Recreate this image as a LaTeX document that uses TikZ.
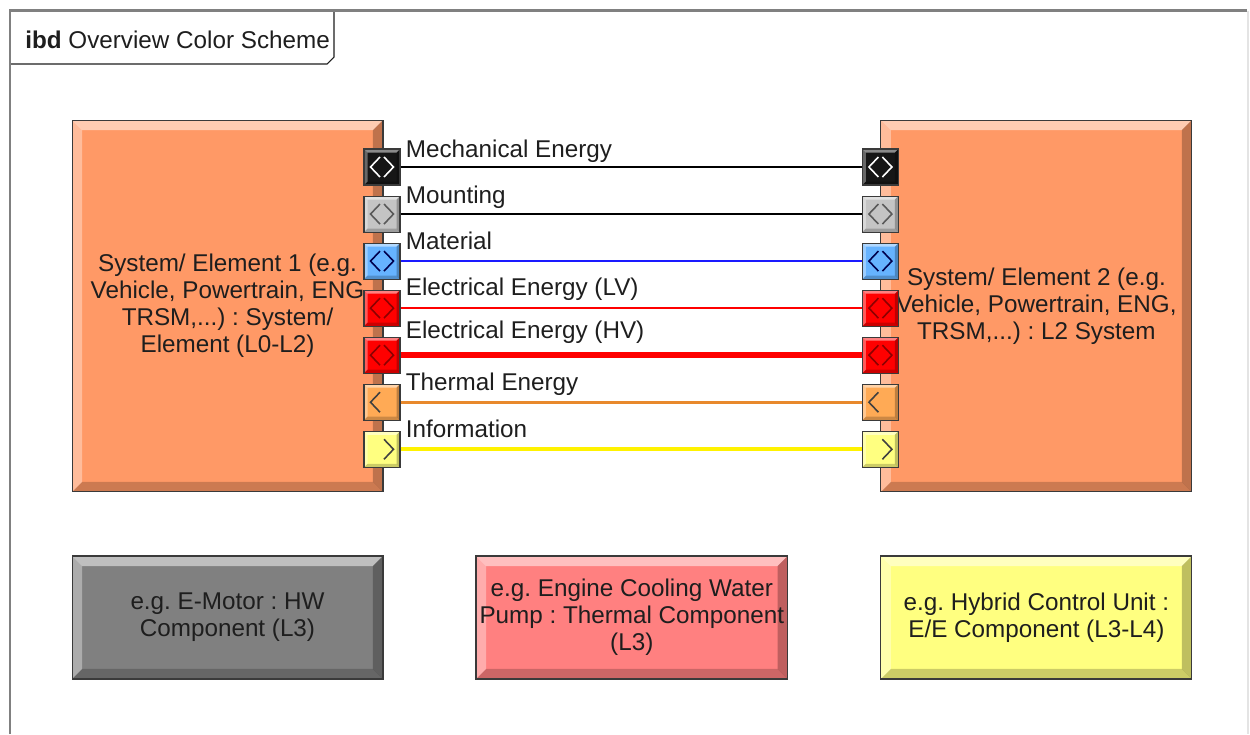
\documentclass[tikz,border=0pt]{standalone}
\usepackage{fontspec}
\setmainfont{Liberation Sans}
\usetikzlibrary{positioning, calc}
\definecolor{framegray}{HTML}{808080}
\definecolor{framelight}{HTML}{E4E4E4}
\definecolor{edgecolor}{HTML}{3A3A3A}
\definecolor{inkcolor}{HTML}{1E1E1E}
\definecolor{systemfill}{HTML}{FF9966}
\definecolor{hwfill}{HTML}{808080}
\definecolor{thermalfill}{HTML}{FF8080}
\definecolor{eefill}{HTML}{FFFF80}
\definecolor{portblack}{HTML}{161616}
\definecolor{portgray}{HTML}{C4C4C4}
\definecolor{portblue}{HTML}{66B3FF}
\definecolor{portred}{HTML}{FF0000}
\definecolor{portorange}{HTML}{FFAA55}
\definecolor{portyellow}{HTML}{FFFF80}
\definecolor{materialblue}{HTML}{1A1AFF}
\definecolor{thermalorange}{HTML}{E8892C}
\definecolor{infoyellow}{HTML}{FFF200}

\begin{document}
\frenchspacing
\begin{tikzpicture}[
  x=0.02cm, y=-0.02cm,
  every node/.style={font=\fontsize{13.8}{15.3}\selectfont, text=inkcolor},
  node distance=0.2cm,
  align=center,
]

\tikzset{
  bevel/.style={path picture={
    \fill[white, opacity=0.5]
      (path picture bounding box.north west) -- (path picture bounding box.north east)
      -- ($(path picture bounding box.north east)+(-#1,-#1)$)
      -- ($(path picture bounding box.north west)+(#1,-#1)$) -- cycle;
    \fill[white, opacity=0.35]
      (path picture bounding box.north west) -- ($(path picture bounding box.north west)+(#1,-#1)$)
      -- ($(path picture bounding box.south west)+(#1,#1)$)
      -- (path picture bounding box.south west) -- cycle;
    \fill[black, opacity=0.2]
      (path picture bounding box.south west) -- (path picture bounding box.south east)
      -- ($(path picture bounding box.south east)+(-#1,#1)$)
      -- ($(path picture bounding box.south west)+(#1,#1)$) -- cycle;
    \fill[black, opacity=0.25]
      (path picture bounding box.north east) -- (path picture bounding box.south east)
      -- ($(path picture bounding box.south east)+(-#1,#1)$)
      -- ($(path picture bounding box.north east)+(-#1,-#1)$) -- cycle;
  }},
  block/.style={rectangle, draw=edgecolor, line width=0.6pt, inner sep=2pt,
    minimum width=6.22cm, bevel=0.2cm},
  system/.style={block, fill=systemfill, minimum height=7.44cm},
  part/.style={block, minimum height=2.46cm},
  port/.style={rectangle, draw=edgecolor, line width=0.6pt, inner sep=0pt,
    minimum size=0.72cm, bevel=0.07cm},
  flowlabel/.style={anchor=base west, inner sep=0pt},
  flowline/.style={line width=#1},
}

\newcommand{\chevleft}[2]{
  \draw[#2, line width=0.9pt, line join=miter]
    ($(#1)+(-0.04cm,0.2cm)$) -- ($(#1)+(-0.23cm,0)$) -- ($(#1)+(-0.04cm,-0.2cm)$);
}
\newcommand{\chevright}[2]{
  \draw[#2, line width=0.9pt, line join=miter]
    ($(#1)+(0.04cm,0.2cm)$) -- ($(#1)+(0.23cm,0)$) -- ($(#1)+(0.04cm,-0.2cm)$);
}

\useasboundingbox (0,0) rectangle (1250,734);

% ---------------------------------------------------------------
% diagram frame
% ---------------------------------------------------------------
\draw[inkcolor, fill=white, line width=0.6pt]
  (10,12) -- (10,64) -- (327,64) -- (334,57) -- (334,12);
\draw[framegray, line width=0.06cm] (10,734) -- (10,10.5) -- (1247,10.5);
\draw[framelight, line width=0.04cm] (1248,10.5) -- (1248,734);
\node[anchor=base west, inner sep=0pt] (title) at (25,48) {\textbf{ibd} Overview Color Scheme};

% ---------------------------------------------------------------
% systems / elements
% ---------------------------------------------------------------
\node[system] (sys1) at (227.5,306)
  {System/ Element 1 (e.g.\\Vehicle, Powertrain, ENG\\TRSM,...) : System/\\Element (L0-L2)};
\node[system, right=9.94cm of sys1] (sys2)
  {System/ Element 2 (e.g.\\Vehicle, Powertrain, ENG,\\TRSM,...) : L2 System};

% ---------------------------------------------------------------
% ports
% ---------------------------------------------------------------
\node[port, fill=portblack]                     (mech1)  at (382,167) {};
\node[port, fill=portgray,   below=of mech1]    (mount1) {};
\node[port, fill=portblue,   below=of mount1]   (mat1)   {};
\node[port, fill=portred,    below=of mat1]     (lv1)    {};
\node[port, fill=portred,    below=of lv1]      (hv1)    {};
\node[port, fill=portorange, below=of hv1]      (therm1) {};
\node[port, fill=portyellow, below=of therm1]   (info1)  {};

\node[port, fill=portblack]  (mech2)  at (mech1 -| sys2.west)  {};
\node[port, fill=portgray]   (mount2) at (mount1 -| sys2.west) {};
\node[port, fill=portblue]   (mat2)   at (mat1 -| sys2.west)   {};
\node[port, fill=portred]    (lv2)    at (lv1 -| sys2.west)    {};
\node[port, fill=portred]    (hv2)    at (hv1 -| sys2.west)    {};
\node[port, fill=portorange] (therm2) at (therm1 -| sys2.west) {};
\node[port, fill=portyellow] (info2)  at (info1 -| sys2.west)  {};

\foreach \p in {mech1, mech2} {\chevleft{\p}{white} \chevright{\p}{white}}
\foreach \p in {mount1, mount2} {\chevleft{\p}{black!65} \chevright{\p}{black!65}}
\foreach \p in {mat1, mat2} {\chevleft{\p}{blue!30!black} \chevright{\p}{blue!30!black}}
\foreach \p in {lv1, lv2, hv1, hv2} {\chevleft{\p}{red!55!black} \chevright{\p}{red!55!black}}
\foreach \p in {therm1, therm2} {\chevleft{\p}{black!75}}
\foreach \p in {info1, info2} {\chevright{\p}{black!75}}

% ---------------------------------------------------------------
% connectors
% ---------------------------------------------------------------
\draw[flowline=1.5pt, black]         (mech1.east)  -- (mech2.west);
\draw[flowline=1.5pt, black]         (mount1.east) -- (mount2.west);
\draw[flowline=1.5pt, materialblue]  (mat1.east)   -- (mat2.west);
\draw[flowline=1.5pt, portred]       (lv1.east)    -- (lv2.west);
\draw[flowline=3.4pt, portred]       (hv1.east)    -- (hv2.west);
\draw[flowline=1.5pt, thermalorange] (therm1.east) -- (therm2.west);
\draw[flowline=2.4pt, infoyellow]    (info1.east)  -- (info2.west);

\node[flowlabel] (lmech)  at ($(mech1.east)+(0.1cm,0.2cm)$)  {Mechanical Energy};
\node[flowlabel] (lmount) at ($(mount1.east)+(0.1cm,0.22cm)$) {Mounting};
\node[flowlabel] (lmat)   at ($(mat1.east)+(0.1cm,0.24cm)$)   {Material};
\node[flowlabel] (llv)    at ($(lv1.east)+(0.1cm,0.26cm)$)    {Electrical Energy (LV)};
\node[flowlabel] (lhv)    at ($(hv1.east)+(0.1cm,0.34cm)$)    {Electrical Energy (HV)};
\node[flowlabel] (ltherm) at ($(therm1.east)+(0.1cm,0.24cm)$) {Thermal Energy};
\node[flowlabel] (linfo)  at ($(info1.east)+(0.1cm,0.24cm)$)  {Information};

% ---------------------------------------------------------------
% component colours
% ---------------------------------------------------------------
\node[part, fill=hwfill, below=1.26cm of sys1] (emotor)
  {e.g. E-Motor : HW\\Component (L3)};
\node[part, fill=thermalfill, right=1.84cm of emotor] (pump)
  {e.g. Engine Cooling Water\\Pump : Thermal Component\\(L3)};
\node[part, fill=eefill, below=1.26cm of sys2] (hcu)
  {e.g. Hybrid Control Unit :\\E/E Component (L3-L4)};

\end{tikzpicture}
\end{document}
